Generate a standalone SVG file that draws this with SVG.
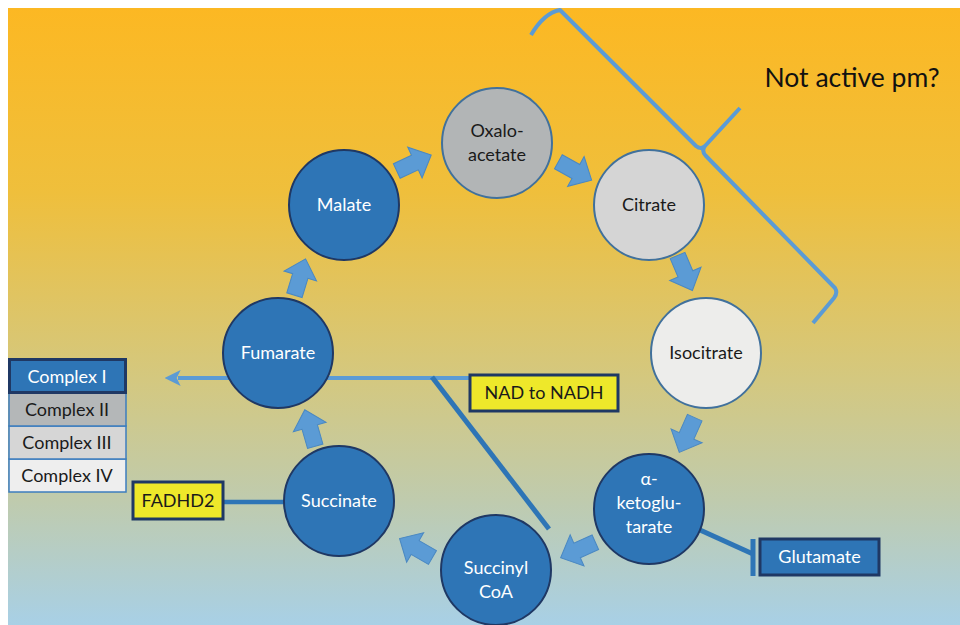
<svg xmlns="http://www.w3.org/2000/svg" width="960" height="625" viewBox="0 0 960 625">
<defs>
<linearGradient id="bg" x1="0" y1="0" x2="0" y2="1">
<stop offset="0" stop-color="#FCB823"/>
<stop offset="0.3" stop-color="#EFBF3C"/>
<stop offset="0.6" stop-color="#D4C87F"/>
<stop offset="0.8" stop-color="#BFCBAE"/>
<stop offset="1" stop-color="#A8D0E6"/>
</linearGradient>
<path id="blk" d="M-19,-8 L1,-8 L1,-17 L19,0 L1,17 L1,8 L-19,8 Z"/>
<marker id="ah" viewBox="0 0 12 12" refX="2" refY="6" markerWidth="4" markerHeight="4" orient="auto-start-reverse" markerUnits="strokeWidth">
<path d="M0,0 L12,6 L0,12 L3,6 Z" fill="#5B9BD5"/>
</marker>
</defs>
<style>
.dk{fill:#2E75B6;stroke:#1F3864;stroke-width:2}
.gr{stroke:#41719C;stroke-width:2}
.t{font-family:Lato,"Open Sans","Liberation Sans",sans-serif;font-size:18px;text-anchor:middle}
.w{fill:#FFFFFF}
.b{fill:#1A1A1A}
.ba{fill:#5B9BD5;stroke:#4A88C2;stroke-width:1}
.box{stroke:#1F3864;stroke-width:3}
.cx{stroke:#3C7DBE;stroke-width:1.5}
</style>
<rect x="0" y="0" width="960" height="625" fill="#FFFFFF"/>
<rect x="8" y="8" width="952" height="617" fill="url(#bg)"/>

<g id="connectors" fill="none">
<line x1="470" y1="378" x2="178" y2="378" stroke="#5B9BD5" stroke-width="4" marker-end="url(#ah)"/>
<line x1="432" y1="377" x2="549" y2="529" stroke="#2E75B6" stroke-width="5"/>
<line x1="224" y1="502" x2="287" y2="502" stroke="#2E75B6" stroke-width="4.5"/>
<line x1="700" y1="530" x2="753" y2="554" stroke="#2E75B6" stroke-width="5"/>
<line x1="753" y1="539" x2="753" y2="576" stroke="#2E75B6" stroke-width="5"/>
<path d="M531,35 Q544,13 560,10 L696,146 Q701,150 705,146 L740,108 M705,146 Q701,151 706,156 L835,288 Q838,293 834,298 L813,323" stroke="#5B9BD5" stroke-width="4" stroke-linejoin="round"/>
<use href="#blk" class="ba" transform="translate(414,163) rotate(-25)"/>
<use href="#blk" class="ba" transform="translate(575,171) rotate(29)"/>
<use href="#blk" class="ba" transform="translate(685,273) rotate(67)"/>
<use href="#blk" class="ba" transform="translate(687,435) rotate(114)"/>
<use href="#blk" class="ba" transform="translate(578,550) rotate(156)"/>
<use href="#blk" class="ba" transform="translate(416,548) rotate(210)"/>
<use href="#blk" class="ba" transform="translate(310,428) rotate(-106)"/>
<use href="#blk" class="ba" transform="translate(300,277) rotate(-73)"/>
</g>

<g id="oxaloacetate">
<circle cx="497" cy="143" r="55" class="gr" fill="#B2B5B6"/>
<text x="497" y="137" class="t b">Oxalo-</text>
<text x="497" y="161" class="t b">acetate</text>
</g>
<g id="citrate">
<circle cx="649" cy="205" r="55" class="gr" fill="#D5D5D5"/>
<text x="649" y="211" class="t b">Citrate</text>
</g>
<g id="isocitrate">
<circle cx="706" cy="353" r="55" class="gr" fill="#EDEDEB"/>
<text x="706" y="359" class="t b">Isocitrate</text>
</g>
<g id="alpha-ketoglutarate">
<circle cx="649" cy="509" r="55" class="dk"/>
<text x="649" y="485" class="t w">α-</text>
<text x="649" y="509" class="t w">ketoglu-</text>
<text x="649" y="533" class="t w">tarate</text>
</g>
<g id="succinyl-coa">
<circle cx="496" cy="570" r="55" class="dk"/>
<text x="496" y="574" class="t w">Succinyl</text>
<text x="496" y="598" class="t w">CoA</text>
</g>
<g id="succinate">
<circle cx="339" cy="501" r="55" class="dk"/>
<text x="339" y="507" class="t w">Succinate</text>
</g>
<g id="fumarate">
<circle cx="278" cy="353" r="55" class="dk"/>
<text x="278" y="359" class="t w">Fumarate</text>
</g>
<g id="malate">
<circle cx="344" cy="205" r="55" class="dk"/>
<text x="344" y="211" class="t w">Malate</text>
</g>

<g id="complex-iv">
<rect x="9" y="459" width="117" height="33" fill="#EEEEEE" class="cx"/>
<text x="67" y="482" class="t b">Complex IV</text>
</g>
<g id="complex-iii">
<rect x="9" y="426" width="117" height="33" fill="#D6D6D6" class="cx"/>
<text x="67" y="449" class="t b">Complex III</text>
</g>
<g id="complex-ii">
<rect x="9" y="393" width="117" height="33" fill="#B4B7B8" class="cx"/>
<text x="67" y="416" class="t b">Complex II</text>
</g>
<g id="complex-i">
<rect x="9.5" y="359.5" width="116" height="33" fill="#2E75B6" class="box"/>
<text x="67" y="383" class="t w">Complex I</text>
</g>
<g id="fadhd2">
<rect x="133" y="482" width="90" height="37" fill="#EEE82A" class="box"/>
<text x="178" y="507" class="t b">FADHD2</text>
</g>
<g id="nad-to-nadh">
<rect x="470" y="375" width="148" height="36" fill="#EEE82A" class="box"/>
<text x="544" y="399" class="t b">NAD to NADH</text>
</g>
<g id="glutamate">
<rect x="760" y="539" width="119" height="36" fill="#2E75B6" class="box"/>
<text x="819.5" y="563" class="t w">Glutamate</text>
</g>
<g id="not-active-label">
<text x="852" y="87" font-family="Lato,'Open Sans','Liberation Sans',sans-serif" font-size="26.5" text-anchor="middle" fill="#111111">Not active pm?</text>
</g>
</svg>
